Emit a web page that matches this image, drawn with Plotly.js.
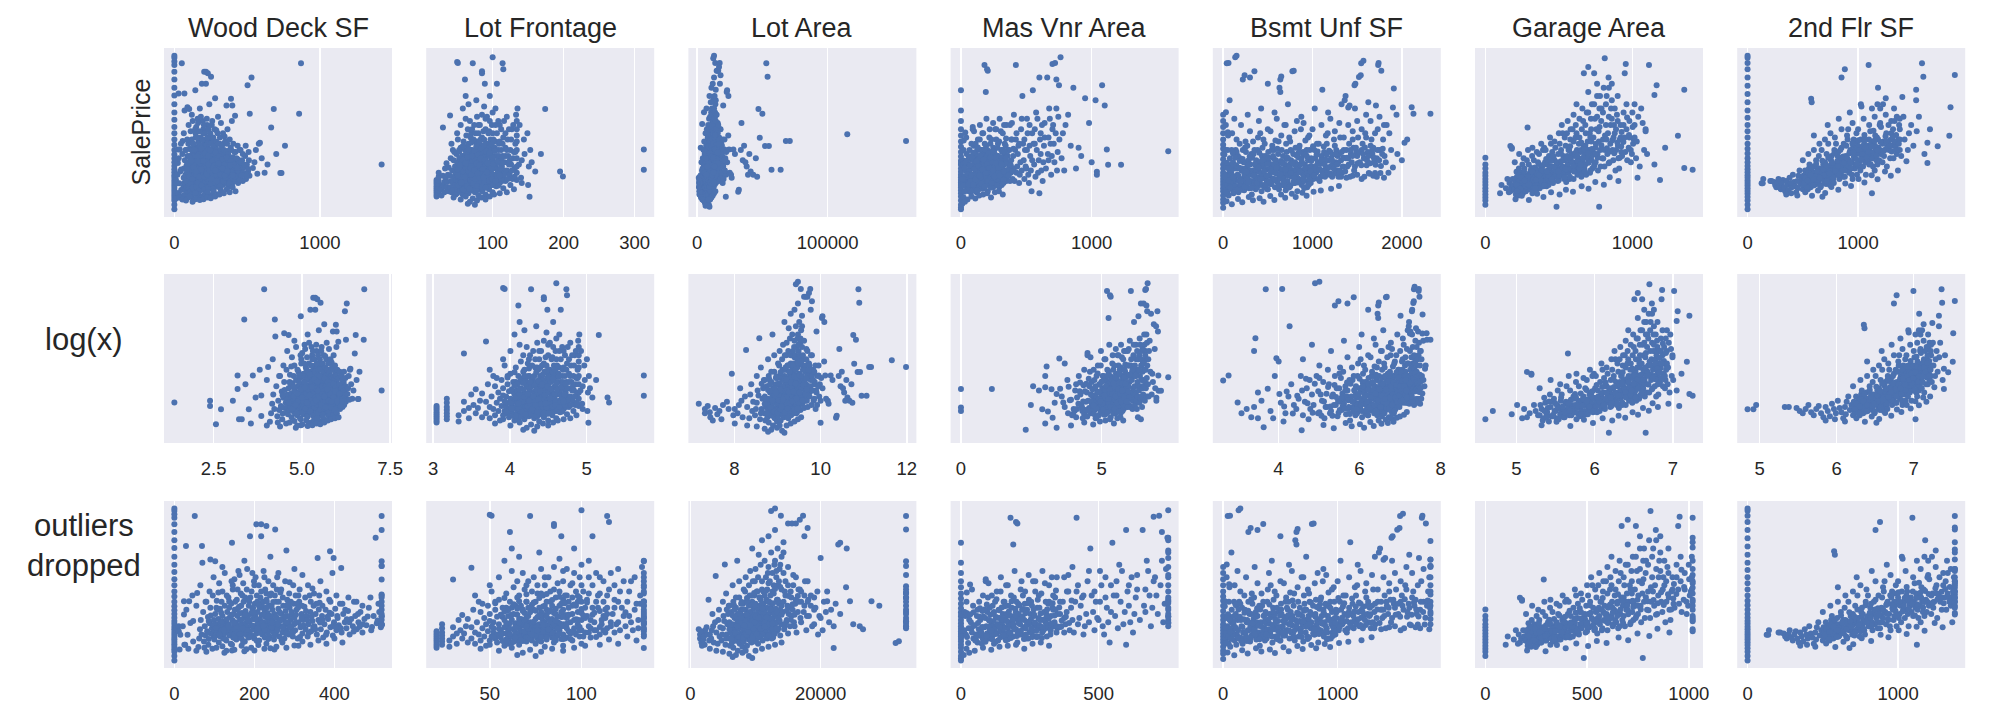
<!DOCTYPE html>
<html>
<head>
<meta charset="utf-8">
<script src="https://cdn.plot.ly/plotly-3.0.1.min.js"></script>
<style>html,body{margin:0;padding:0;background:#fff;}</style>
</head>
<body>
<div id="myPlot" style="width:1996px;height:712px;"></div>
<script>
var features = ['Wood Deck SF', 'Lot Frontage', 'Lot Area', 'Mas Vnr Area', 'Bsmt Unf SF', 'Garage Area', '2nd Flr SF'];
var rowLabels = ['SalePrice', 'log(x)', 'outliers<br>dropped'];

// upper value each feature is clipped to in the "outliers dropped" row
var clipAt = [518, 134, 33100, 753, 1810, 1019, 1377];

var ticksRaw  = [['0','1000'], ['100','200','300'], ['0','100000'], ['0','1000'], ['0','1000','2000'], ['0','1000'], ['0','1000']];
var ticksLog  = [['2.5','5.0','7.5'], ['3','4','5'], ['8','10','12'], ['0','5'], ['4','6','8'], ['5','6','7'], ['5','6','7']];
var ticksClip = [['0','200','400'], ['50','100'], ['0','20000'], ['0','500'], ['0','1000'], ['0','500','1000'], ['0','1000']];

// [feature value, SalePrice in $1000]
var woodDeck = [
  [0,13],[0,35],[0,55],[0,68],[0,80],[0,92],[0,104],[0,116],[0,128],[0,140],[0,152],[0,165],[0,178],[0,192],[0,206],[0,222],[0,240],[0,258],[0,278],[0,300],[0,325],[0,350],[0,380],[0,410],[0,445],[0,480],[0,520],[0,563],[0,600],[0,640],[0,678],[0,710],[0,727],[0,745],[0,755],
  [4,172],[11,180],[11,155],[13,66],[15,139],[21,180],[24,237],[24,302],[25,90],[27,90],[29,572],[33,139],[37,302],[40,196],[47,205],[47,106],[51,719],[57,343],[69,572],[70,490],[90,506],[102,498],
  [62,120],[64,165],[66,210],[68,140],[72,250],[74,105],[76,180],[78,135],[80,300],[82,155],[84,225],[86,118],[88,195],[90,270],[92,145],[94,170],[96,330],[98,128],[99,210],[85,90],[75,75],
  [100,115],[101,160],[102,240],[104,135],[105,190],[106,305],[108,150],[110,215],[111,100],[112,175],[114,265],[115,130],[116,200],[118,160],[120,350],[120,230],[122,120],[123,185],[125,145],[126,280],[128,170],[129,205],[130,110],[132,250],[133,155],[135,320],[136,190],[138,135],[139,225],[140,170],[141,95],[142,290],[144,150],[145,210],[146,380],[147,125],[148,240],[149,180],[150,140],
  [151,260],[152,165],[153,200],[155,115],[156,310],[157,150],[158,230],[160,185],[161,135],[162,275],[164,210],[165,160],[166,340],[168,120],[169,245],[170,190],[171,145],[173,300],[174,220],[175,170],[176,105],[178,255],[179,195],[180,140],[181,360],[183,230],[184,175],[185,125],[186,280],[188,205],[189,155],[190,320],[191,240],[192,185],[194,135],[195,265],[196,215],[198,165],[199,400],
  [200,120],[201,290],[202,230],[204,180],[205,145],[206,330],[208,250],[209,195],[210,160],[212,110],[213,270],[214,215],[216,175],[217,350],[218,235],[220,140],[221,300],[222,200],[224,160],[225,260],[226,125],[228,225],[229,185],[230,310],[232,150],[233,245],[234,205],[236,170],[237,280],[238,130],[240,230],[241,190],[242,340],[244,155],[245,260],[246,210],[248,175],[249,115],
  [250,240],[252,195],[254,150],[255,300],[256,220],[258,170],[260,265],[262,130],[263,205],[265,345],[266,180],[268,240],[270,150],[272,280],[273,210],[275,120],[276,185],[278,255],[280,160],[282,310],[283,230],[285,195],[286,140],[288,270],[290,210],[292,175],[294,235],[296,130],[298,290],[299,190],
  [300,220],[302,160],[305,260],[308,120],[310,200],[312,300],[315,175],[318,240],[320,145],[322,210],[325,275],[328,165],[330,230],[333,130],[335,190],[338,330],[340,250],[342,155],[345,205],[348,280],
  [350,180],[353,240],[356,140],[358,514],[360,210],[363,295],[366,165],[369,230],[372,125],[375,190],[378,260],[381,150],[384,215],[387,310],[389,547],[390,175],[393,240],[396,135],[398,514],[399,200],
  [402,265],[405,160],[408,220],[411,185],[414,290],[417,465],[418,150],[422,240],[426,200],[430,170],[434,255],[438,140],[442,215],[446,180],[449,300],
  [452,230],[456,165],[460,200],[465,250],[470,150],[475,215],[480,185],[486,270],[492,160],[498,230],[503,612],[506,195],[512,250],[516,175],
  [110,345],[146,360],[170,330],[200,380],[230,340],[256,360],[288,395],[150,410],[225,420],[310,330],[345,365],[260,440],[300,460],[195,440],[144,588],[189,620],[205,678],[217,678],[230,670],[252,653],[217,620],[120,470],[175,500],[240,520],[320,430],[280,550],[365,400],[395,440],[160,450],
  [30,260],[45,330],[55,280],[65,380],[78,300],[88,350],[98,420],[105,270],[112,390],[118,300],[126,440],[131,330],[137,270],[143,400],[152,300],[158,360],[163,430],[167,280],[172,390],[177,320],[182,460],[187,300],[193,350],[197,270],[203,420],[207,300],[211,380],[215,320],[219,280],[223,450],[227,360],[231,300],[235,400],[239,330],[243,280],[247,380],[251,330],[257,420],[261,300],[267,360],[271,320],[277,400],[281,280],[287,340],[291,300],[297,380],[303,330],[307,290],[313,360],[319,280],[327,320],[334,380],[341,300],[349,340],[355,290],[362,330],[370,280],[380,350],[390,300],[405,330],[420,290],[435,320],[455,300],[470,280],[490,320],[510,290],
  [83,148],[91,232],[97,186],[107,262],[113,141],[119,203],[127,118],[134,178],[137,301],[143,236],[151,122],[154,178],[159,268],[163,142],[167,212],[172,103],[177,236],[181,162],[186,308],[189,128],[194,248],[197,182],[203,212],[206,108],[211,282],[214,148],[219,196],[223,238],[226,162],[231,272],[235,118],[239,206],[243,175],[247,298],[251,136],[254,226],[259,190],[263,248],[268,112],[271,173],[276,226],[279,144],[284,288],[288,176],[293,250],[297,152],[303,196],[309,270],[314,128],[318,220],[323,184],[329,255],[336,148],[343,228],[352,165],[361,262],[370,212],[379,138],[388,246],[397,184],[407,230],[416,170],[427,260],[437,200],[448,154],[459,240],[471,190],[483,228],[494,176],[508,208],
  [86,206],[103,172],[117,246],[124,160],[131,214],[149,196],[162,244],[171,170],[184,206],[198,246],[208,170],[222,182],[234,228],[244,198],[257,160],[266,212],[281,200],[291,148],[304,236],[317,180],[332,210],[347,176],[364,198],[383,226],[402,178],[431,214],[463,178],
  [60,78],[95,70],[120,82],[144,62],[168,85],[192,75],[210,88],[255,80],[300,86],[144,90],[230,95],[270,100],[320,105],[360,110],[400,120],[130,60],[180,68],[240,72],
  [35,70],[55,60],[80,55],[105,75],[125,50],[150,65],[175,58],[200,62],[225,70],[250,66],[280,75],[310,85],[340,90],[380,95],[420,100],
  [518,474],[588,335],[580,330],[665,408],[640,229],[683,498],[728,188],[736,188],[857,474],[870,719],[1424,229],[540,212],[530,650],[560,300],[600,260],[620,190],[700,280],[760,320],[550,240],[570,185]
];

var lotFrontage = [
  [21,75],[21,85],[21,95],[21,105],[21,115],[21,125],[21,135],[21,145],[21,155],
  [24,90],[24,105],[24,120],[24,135],[24,150],[24,170],[24,190],
  [28,110],[30,130],[30,175],[32,145],[32,95],[33,210],[34,160],[35,120],[35,235],
  [36,145],[37,180],[38,215],[38,100],[40,120],[40,175],[40,466],[30,408],[41,260],[42,95],[42,150],[43,200],[44,140],[44,300],[45,250],[45,110],[46,170],[47,130],[47,220],[48,190],[48,85],[49,155],[49,280],
  [50,725],[51,720],[50,90],[50,110],[50,240],[51,130],[51,350],[52,150],[52,170],[52,200],[53,120],[53,260],[54,140],[54,100],[55,190],[55,310],[56,160],[56,125],[57,225],[57,145],[58,210],[58,85],[58,175],[59,145],[59,115],[59,270],[60,115],[60,175],[60,135],[60,230],[60,155],[60,95],[61,640],[62,560],[62,270],
  [61,195],[62,100],[62,130],[63,125],[63,165],[63,240],[64,150],[64,195],[64,110],[65,110],[65,140],[65,180],[65,320],[66,170],[66,90],[66,215],[67,130],[67,215],[67,155],[68,155],[68,120],[68,255],[68,185],[69,185],[69,245],[69,140],[70,105],[70,140],[70,165],[70,300],[70,200],[70,125],[70,380],
  [71,125],[71,230],[72,150],[72,719],[72,200],[72,175],[73,110],[73,175],[73,285],[74,135],[74,260],[74,160],[75,95],[75,160],[75,185],[75,215],[75,140],[76,120],[76,225],[76,340],[77,145],[77,190],[78,170],[78,105],[78,340],[78,250],[79,130],[79,205],[80,155],[80,200],[80,280],[80,80],[80,175],[80,235],[80,130],[80,420],
  [81,115],[81,260],[82,140],[82,185],[82,215],[83,165],[83,300],[84,125],[84,215],[84,175],[85,680],[85,670],[85,150],[85,100],[85,245],[85,360],[86,240],[86,175],[86,130],[87,135],[87,200],[88,195],[88,160],[88,280],[89,620],[89,118],[89,225],[90,140],[90,260],[90,310],[90,85],[90,190],[90,450],
  [91,180],[91,235],[92,125],[92,220],[92,330],[93,155],[93,270],[94,200],[94,145],[95,110],[95,240],[95,390],[96,170],[96,210],[97,140],[97,280],[98,190],[98,250],[99,130],[99,320],[100,747],[100,160],[100,210],[100,380],[100,245],[100,95],[100,300],[100,480],
  [102,150],[102,270],[103,230],[104,180],[104,340],[105,125],[105,210],[106,620],[106,270],[107,200],[107,160],[108,160],[108,300],[109,330],[110,140],[110,255],[110,420],[111,190],[112,300],[112,230],[113,220],[113,150],[114,719],[114,170],[114,270],[115,690],[115,115],[115,360],
  [116,200],[117,240],[118,150],[118,310],[119,190],[120,200],[120,460],[121,350],[122,270],[123,230],[124,180],[125,130],[125,300],[126,230],[127,400],[128,160],[129,260],[130,290],[131,210],[132,330],[133,470],[134,260],[134,400],[134,190],[134,340],[134,220],[134,300],[134,155],[130,110],
  [42,330],[46,290],[50,380],[53,300],[55,420],[57,270],[59,340],[61,300],[62,450],[63,370],[64,280],[65,400],[66,330],[67,280],[68,440],[69,360],[70,300],[71,400],[72,270],[73,350],[74,420],[75,300],[76,380],[77,270],[78,460],[79,330],[80,380],[81,300],[82,420],[83,350],[84,280],[85,470],[86,320],[87,390],[88,350],[89,290],[90,400],[91,330],[92,460],[93,300],[94,380],[95,320],[96,440],[97,350],[98,300],[99,420],[101,350],[103,310],[104,420],[106,380],[108,440],[110,340],[112,400],[114,330],[116,440],[118,380],[120,300],[123,400],[126,350],[129,420],[132,290],[134,370],[134,440],[58,500],[66,520],[77,540],[88,510],[96,560],[104,500],
  [50,205],[52,128],[53,292],[55,168],[56,236],[57,108],[58,318],[59,196],[60,258],[61,142],[62,212],[63,288],[63,104],[64,176],[65,236],[66,128],[66,302],[67,192],[68,262],[68,108],[69,156],[70,222],[70,336],[71,168],[72,248],[72,118],[73,196],[74,296],[75,132],[75,256],[76,178],[77,318],[77,110],[78,222],[79,152],[79,276],[80,190],[81,338],[81,126],[82,250],[83,204],[84,148],[84,308],[85,188],[86,266],[86,112],[87,228],[88,146],[88,324],[89,180],[90,226],[91,120],[91,292],[92,170],[93,236],[94,118],[95,280],[96,152],[97,214],[98,328],[99,176],[100,264],[101,130],[102,220],[103,296],[105,170],[106,236],[108,128],[109,270],[111,210],[112,160],[114,240],[116,180],[118,270],[121,160],[124,248],[127,200],[131,170],
  [51,178],[54,226],[56,142],[58,252],[59,108],[61,168],[62,236],[64,126],[65,266],[66,198],[67,112],[69,212],[70,180],[71,270],[73,140],[74,202],[76,160],[77,234],[78,126],[79,186],[81,226],[82,164],[83,258],[85,122],[86,208],[87,168],[89,250],[90,118],[92,192],[93,236],[95,152],[96,286],[98,212],[99,160],[101,232],[104,150],[107,246],[110,176],[113,262],
  [28,80],[45,70],[55,60],[62,75],[68,50],[72,65],[78,55],[84,70],[90,60],[96,75],[102,85],[110,90],[120,95],[65,40],[75,35],
  [135,500],[138,420],[140,165],[141,250],[144,350],[149,380],[151,220],[152,74],[153,300],[160,196],[168,280],[174,498],[195,196],[199,172],[313,302],[313,204],[141,140],[150,130],[137,230],[145,280],[155,240]
];

var lotArea = [
  [1300,165],[1500,120],[1500,140],[1680,125],[1700,100],[1900,145],[2000,115],[2100,130],[2280,160],[2500,175],[2800,310],[2200,90],[2600,140],[2900,110],[1600,155],[1800,85],
  [3000,140],[3200,120],[3500,180],[3600,100],[3900,425],[4000,150],[4300,210],[4500,130],[4800,110],[5300,482],[5000,170],[5400,90],[5600,140],[5800,240],[3300,160],[3800,200],[4200,95],[4600,175],[4900,140],[5100,230],[5500,120],[5700,190],[5900,280],[4400,260],[3400,240],
  [6000,120],[6000,200],[6100,85],[6200,150],[6300,250],[6400,100],[6400,175],[6500,190],[6500,135],[6600,75],[6600,300],[6700,160],[6800,130],[6800,220],[6900,110],[7000,160],[7000,110],[7000,270],[7100,190],[7200,140],[7200,210],[7300,60],[7300,240],[7400,125],[7400,170],[7500,175],[7500,320],[7500,100],[7600,95],[7600,205],[7700,145],[7700,255],[7800,260],[7800,130],[7900,115],[7900,185],[8000,135],[8000,190],[8000,230],[8000,80],
  [8100,155],[8100,290],[8200,105],[8200,210],[8300,230],[8300,140],[8400,170],[8400,350],[8500,125],[8500,145],[8500,260],[8600,300],[8600,190],[8700,85],[8700,220],[8800,160],[8800,245],[8900,200],[8900,130],[9000,115],[9000,135],[9000,280],[9000,175],[9100,180],[9100,330],[9200,150],[9200,210],[9300,250],[9300,120],[9400,100],[9400,195],[9500,170],[9500,125],[9500,300],[9500,230],[9600,210],[9600,150],[9700,140],[9700,265],[9800,330],[9800,180],[9900,160],[9900,240],[9900,400],
  [10000,115],[10000,190],[10000,290],[10000,150],[10100,135],[10100,220],[10200,240],[10200,170],[10300,155],[10300,350],[10400,95],[10400,205],[10500,175],[10500,260],[10600,280],[10600,140],[10700,125],[10700,230],[10800,205],[10800,310],[10900,145],[10900,185],[11000,165],[11000,360],[11000,250],[11100,110],[11100,215],[11200,230],[11200,290],[11300,185],[11300,140],[11400,140],[11400,330],[11500,265],[11500,200],[11600,155],[11600,240],[11700,310],[11700,175],[11800,120],[11800,270],[11900,200],[11900,440],[12000,175],[12000,390],[12000,230],
  [12100,140],[12100,300],[12200,245],[12300,190],[12400,743],[12400,160],[12400,270],[12500,290],[12500,210],[12600,215],[12600,350],[12700,125],[12700,250],[12800,340],[12800,180],[12900,185],[12900,480],[13000,755],[13000,150],[13000,230],[13100,265],[13200,420],[13200,200],[13300,200],[13300,310],[13400,310],[13400,160],[13500,170],[13500,380],[13600,235],[13600,290],[13700,460],[13800,135],[13800,260],[13900,720],[14000,280],[14000,190],[14000,520],
  [14200,250],[14300,590],[14300,540],[14400,165],[14500,350],[14600,330],[14700,200],[14800,210],[14900,280],[15000,682],[15000,380],[15000,145],[15100,240],[15200,270],[15300,180],[15500,230],[15500,320],[15600,682],[15700,260],[15800,430],[15900,200],[16000,180],[16100,290],[16200,682],[16200,310],[16300,150],[16500,250],[16600,360],[16800,700],[16800,360],[16900,220],[17000,200],[17000,300],[17300,720],[17400,250],[17500,620],[17500,280],[17600,400],[17800,160],[17900,230],[18000,660],[18000,400],[18100,310],[18200,230],[18500,330],[18700,180],[19000,190],[19000,260],[19200,270],[19500,350],[19600,140],[19800,230],
  [5000,300],[5500,340],[6000,280],[6500,380],[7000,320],[7500,400],[7800,290],[8200,360],[8500,420],[8800,300],[9000,380],[9200,450],[9400,330],[9600,400],[9800,290],[10000,460],[10200,350],[10400,420],[10600,320],[10800,480],[11000,400],[11200,350],[11400,500],[11600,420],[11800,360],[12000,470],[12200,400],[12400,540],[12600,440],[12800,380],[13000,500],[13200,450],[13400,560],[13600,400],[13800,480],[14000,360],[14300,440],[14600,400],[15000,470],[15400,350],[15800,380],[16200,420],[16600,300],[17000,350],[17500,330],[18000,300],[18500,280],[19000,320],[7200,500],[9500,560],[11000,600],[12000,620],[13000,650],[10500,530],
  [5200,205],[5600,262],[6000,165],[6300,118],[6500,232],[6700,282],[6900,148],[7100,228],[7300,172],[7500,128],[7700,198],[7900,298],[8100,122],[8200,262],[8400,208],[8600,138],[8700,318],[8900,176],[9100,248],[9200,112],[9400,282],[9500,202],[9700,168],[9800,342],[10000,228],[10100,104],[10300,272],[10400,182],[10600,216],[10700,320],[10900,168],[11000,290],[11100,140],[11300,248],[11400,198],[11600,352],[11700,128],[11800,224],[12000,298],[12100,190],[12300,330],[12400,218],[12600,168],[12700,292],[12900,240],[13000,362],[13200,170],[13300,248],[13500,302],[13700,208],[13800,372],[14000,236],[14300,300],[14500,182],[14800,256],[15100,328],[15400,212],[15700,288],[16000,236],[16500,328],[6200,190],[7600,240],[8800,230],[10500,130],[12500,120],[9900,198],
  [8300,182],[8600,236],[8900,152],[9200,186],[9600,122],[9900,282],[10200,142],[10500,222],[10800,168],[11100,268],[11400,178],[11700,224],[12000,136],[12300,262],[12600,192],[12900,142],[7200,180],[6800,260],[7800,220],[13500,220],
  [3000,70],[4000,60],[5000,55],[6000,45],[7000,40],[8000,50],[9000,35],[10000,60],[11000,70],[12000,80],[13000,90],[14000,100],[6500,30],[9500,25],[8500,60],
  [20000,514],[20000,220],[20500,300],[21000,350],[21000,302],[21600,260],[22000,74],[22000,180],[22700,580],[23000,588],[23000,240],[23900,370],[24000,560],[24500,302],[25000,190],[26000,180],[26500,165],[27800,302],[29000,280],[31500,98],[32000,107],[20300,160],[21300,200],[22300,290],[20800,250],
  [36000,320],[38000,220],[40000,280],[41000,196],[43000,180],[46000,170],[48000,359],[47000,498],[50000,474],[52000,319],[53000,719],[54000,653],[55000,319],[57000,204],[64000,204],[68000,343],[71000,343],[115000,376],[160000,343],[35000,250],[34000,430],[39000,180],[45000,260],[33500,300],[37000,240]
];

var masVnrArea = [
  [0,13],[0,22],[0,35],[0,55],[0,75],[0,90],[0,105],[0,118],[0,130],[0,142],[0,155],[0,168],[0,180],[0,195],[0,210],[0,228],[0,248],[0,268],[0,290],[0,315],[0,340],[0,370],[0,400],[0,440],[0,490],[0,588],
  [1,237],[1,147],[1,131],
  [3,237],[13,250],[16,230],[18,139],[20,245],[21,345],[25,235],[33,384],[40,150],[45,120],[50,185],[55,140],[60,100],[65,165],[70,210],[75,130],[80,115],[85,175],[90,410],[90,400],[95,145],[28,170],[36,200],[44,280],[52,110],[58,230],[66,300],[72,160],[78,255],[84,135],[88,220],[92,180],[98,320],[62,140],[76,95],[96,250],
  [100,120],[102,210],[104,270],[105,160],[108,140],[110,200],[112,330],[115,135],[117,180],[120,95],[120,250],[122,165],[124,300],[125,175],[127,225],[130,145],[132,190],[135,110],[137,260],[140,220],[142,155],[144,350],[145,160],[147,200],[150,185],[150,130],[152,240],[155,300],[157,175],[160,145],[162,215],[164,380],[165,240],[167,130],[170,170],[170,115],[172,280],[175,200],[177,150],[180,150],[180,710],[182,230],[185,270],[187,180],[190,580],[190,130],[192,320],[195,215],[197,165],[199,250],
  [200,165],[200,690],[202,300],[205,682],[205,100],[207,220],[210,240],[212,140],[215,190],[217,360],[220,140],[222,260],[225,330],[227,175],[230,210],[232,290],[235,170],[237,120],[240,260],[242,200],[245,120],[247,310],[250,195],[252,240],[255,300],[257,150],[260,155],[262,400],[265,230],[267,185],[270,350],[272,130],[275,180],[277,270],[280,130],[282,220],[285,270],[287,170],[290,210],[292,340],[295,150],[300,160],[302,250],[305,390],[307,200],[310,240],[312,130],[315,190],[317,290],[320,300],[322,170],[325,140],[327,230],[330,420],[332,270],[335,260],[337,180],[340,200],[342,320],[345,355],[347,150],[350,170],[350,240],
  [360,240],[365,180],[370,300],[375,220],[380,190],[385,350],[390,430],[395,160],[400,270],[405,210],[410,150],[415,300],[420,710],[420,350],[425,190],[430,220],[435,280],[440,320],[445,140],[450,180],[455,240],[460,400],[465,200],[470,560],[475,330],[480,250],[485,160],[490,300],[495,220],[500,210],[505,450],[510,380],[515,180],[520,140],[525,320],[530,270],[535,200],[540,100],[545,250],[550,588],[555,330],[560,230],[565,400],[570,170],[575,480],[580,300],[590,190],[595,250],[600,90],[600,650],[605,350],[610,280],[615,200],[620,420],[625,150],[630,240],[635,320],[640,360],[650,210],[660,650],[665,280],[670,250],[675,500],[680,450],[685,330],[690,180],[695,270],[700,715],[705,420],[710,330],[715,240],[720,720],[725,380],[730,640],[735,200],[740,290],[745,460],[750,612],[753,350],[762,747],
  [20,300],[40,360],[60,260],[80,330],[100,390],[115,280],[130,350],[145,420],[158,300],[170,380],[182,330],[195,450],[208,290],[220,400],[233,350],[246,430],[258,280],[270,400],[283,330],[296,450],[308,300],[320,380],[335,330],[348,420],[360,300],[375,420],[390,350],[405,470],[425,380],[445,330],[465,450],[485,350],[505,300],[525,420],[545,380],[565,330],[585,450],[610,380],[640,430],[670,360],[700,400],[730,500],
  [22,128],[30,212],[38,172],[46,248],[54,116],[62,196],[69,268],[74,148],[82,226],[89,104],[94,286],[101,178],[107,236],[113,116],[119,206],[124,142],[129,312],[134,188],[139,258],[143,126],[149,216],[154,168],[159,278],[163,112],[168,232],[173,192],[178,146],[184,302],[188,212],[193,168],[198,266],[203,132],[208,196],[213,282],[218,158],[224,226],[229,118],[234,244],[239,186],[244,292],[249,152],[254,214],[259,128],[264,262],[269,198],[274,158],[279,310],[284,186],[289,242],[294,122],[299,212],[306,170],[313,262],[319,218],[326,160],[333,292],[340,232],[348,180],[357,272],[366,208],[375,150],[384,250],[393,196],[402,306],
  [12,160],[26,98],[34,238],[48,182],[57,132],[68,226],[77,176],[86,262],[93,132],[103,208],[111,158],[118,244],[126,104],[133,222],[141,176],[148,272],[156,136],[165,206],[174,252],[181,122],[190,188],[199,232],[206,150],[216,212],[226,264],[236,140],[245,202],[256,170],[266,236],[276,128],[286,214],[296,176],[311,230],[329,194],[344,262],[362,176],[381,226],
  [20,70],[50,60],[80,75],[110,65],[140,80],[170,85],[200,90],[230,70],[260,95],[290,100],[320,85],[10,40],[30,50],
  [790,200],[860,600],[880,210],[900,310],[950,550],[1030,540],[1040,195],[1040,180],[1080,612],[1100,514],[1116,302],[1126,228],[1225,228],[1586,294],[800,420],[820,470],[770,260],[780,380],[840,320],[920,270],[980,430],[1000,240]
];

var bsmtUnfSF = [
  [0,20],[0,45],[0,60],[0,80],[0,100],[0,115],[0,130],[0,145],[0,160],[0,175],[0,190],[0,210],[0,230],[0,255],[0,280],[0,305],[0,325],[0,350],[0,380],[0,410],[0,440],[0,470],
  [14,278],[16,302],[22,120],[25,140],[28,100],[30,150],[31,482],[30,420],[33,220],[36,180],[40,719],[45,130],[52,385],[55,370],[60,720],[67,225],[70,200],[72,540],[80,160],[90,190],[100,110],[110,240],[120,140],[135,747],[140,300],[48,95],[58,170],[65,120],[75,260],[85,140],[95,300],[105,175],[115,90],[125,210],[130,160],[145,120],[150,350],[62,80],[98,230],[118,280],
  [150,755],[150,125],[155,210],[160,180],[165,270],[170,95],[175,150],[180,150],[185,330],[190,260],[195,120],[200,130],[205,200],[210,210],[215,160],[220,640],[220,300],[225,160],[230,240],[235,105],[238,180],[240,660],[245,240],[248,135],[250,175],[255,290],[260,135],[265,215],[270,320],[275,165],[280,190],[285,250],[290,115],[295,200],[300,650],[300,230],[305,140],[310,150],[315,280],[320,85],[325,190],[330,200],[335,340],[340,280],[345,150],[350,680],[350,140],[355,230],[360,170],[365,110],[370,250],[375,195],[380,120],[385,300],[390,360],[395,165],[400,195],[405,240],[410,145],[415,380],[420,225],[425,130],[430,100],[435,270],[440,310],[445,180],[450,165],[455,215],[460,130],[465,330],[470,270],[475,160],[480,205],[485,250],[490,150],[495,110],
  [500,620],[500,110],[505,290],[510,240],[515,175],[520,180],[525,135],[530,390],[535,225],[540,135],[545,300],[550,215],[555,160],[560,160],[565,260],[570,300],[575,190],[580,120],[585,345],[590,250],[595,150],[600,185],[605,230],[610,145],[615,280],[620,340],[625,110],[630,600],[630,210],[640,640],[640,580],[645,170],[650,200],[650,655],[655,300],[660,130],[665,240],[670,270],[675,160],[680,170],[685,420],[690,230],[695,190],[700,105],[705,330],[710,290],[715,210],[720,150],[725,260],[730,195],[735,130],[740,360],[745,230],[750,125],[755,300],[760,250],[765,170],[770,200],[775,680],[780,175],[785,280],[790,682],[795,140],[800,140],[805,240],[810,310],[815,185],[820,205],[825,440],[830,100],[835,160],[840,265],[845,215],[850,160],[855,320],[860,230],[865,145],[870,400],[875,260],[880,130],[885,200],[890,185],[895,290],[900,280],[905,170],[910,150],[915,230],[920,345],[925,120],[930,210],[935,300],[940,120],[945,190],[950,250],[955,150],[960,175],[965,370],[970,300],[975,220],[980,140],[985,260],[990,220],[995,165],[1000,190],
  [1010,160],[1020,300],[1030,260],[1040,190],[1050,200],[1060,240],[1070,330],[1080,150],[1090,170],[1100,270],[1110,590],[1110,240],[1120,200],[1130,290],[1140,170],[1150,210],[1160,330],[1170,380],[1180,250],[1190,180],[1200,290],[1210,260],[1220,170],[1230,230],[1240,350],[1250,320],[1260,240],[1270,200],[1280,270],[1290,170],[1300,280],[1310,360],[1320,250],[1330,190],[1340,220],[1350,300],[1360,540],[1370,560],[1375,260],[1380,300],[1390,220],[1400,505],[1400,260],[1410,330],[1415,514],[1420,170],[1430,280],[1440,240],[1450,350],[1460,310],[1470,612],[1475,220],[1480,620],[1490,290],[1500,270],[1510,360],[1520,652],[1530,240],[1540,660],[1545,719],[1550,300],[1560,330],[1570,730],[1575,260],[1580,170],[1590,380],[1600,470],[1610,250],[1620,290],[1630,188],[1640,185],[1650,320],[1660,350],[1670,280],[1680,310],[1690,240],[1700,188],[1710,514],[1720,260],[1730,400],[1735,710],[1740,720],[1750,300],[1760,188],[1770,682],[1780,280],[1790,350],[1800,165],[1320,170],[1380,165],[1450,175],[1550,160],[1680,175],[1720,170],[1500,180],
  [50,300],[100,380],[150,290],[200,420],[250,340],[300,390],[350,300],[400,440],[450,350],[500,400],[550,320],[600,450],[650,370],[700,420],[750,340],[800,390],[850,310],[900,430],[950,360],[1000,400],[1050,330],[1100,420],[1150,370],[1200,450],[1250,390],[1300,430],[1350,360],[1400,420],[1450,390],[1500,440],[1550,400],[1600,360],[1650,440],[1700,380],[1750,460],[1800,420],[125,450],[275,470],[425,500],[575,480],[725,520],[875,460],[1025,500],[1175,480],[1325,520],[1475,500],[1625,530],
  [20,172],[42,238],[63,152],[87,204],[108,286],[127,122],[146,226],[168,176],[186,246],[207,108],[226,198],[246,312],[266,152],[284,228],[306,182],[324,262],[346,128],[366,206],[386,162],[404,286],[426,186],[446,236],[466,118],[486,176],[506,262],[526,206],[546,152],[566,232],[586,192],[606,306],[626,162],[646,246],[666,206],[686,128],[706,256],[726,178],[746,216],[766,296],[786,144],[806,226],[826,168],[846,288],[866,192],[886,236],[906,116],[926,276],[946,212],[966,156],[986,246],[1006,318],[1026,206],[1046,276],[1066,160],[1086,232],[1106,196],[1126,316],[1146,252],[1166,190],[1186,296],[1206,222],[1226,276],[1246,186],[1266,300],[1286,238],[1306,200],[1326,290],[1346,262],[1366,196],[1386,262],[1406,230],[1426,300],[1446,270],[1466,200],[1486,310],[1506,236],[1526,290],[1546,226],[1566,280],[1586,312],[1606,226],[1626,270],[1646,236],[1666,296],[1686,262],[1706,228],[1726,300],[1746,250],[1766,222],[1786,306],[1806,270],
  [33,96],[56,212],[78,118],[112,168],[134,262],[158,108],[179,214],[197,152],[218,256],[241,122],[259,194],[279,142],[297,268],[318,116],[338,176],[357,232],[378,140],[397,214],[418,160],[437,250],[458,198],[478,132],[497,232],[517,148],[538,198],[557,270],[578,158],[597,214],[618,126],[638,182],[657,236],[678,150],[698,204],[717,262],[738,118],[757,188],[778,236],[797,164],[818,274],[837,142],[858,196],[877,250],[898,160],[917,212],[938,268],[957,132],[978,196],[997,256],[1018,176],[1038,222],[1057,292],[1078,206],[1098,250],[1118,180],[1137,230],[1158,276],[1178,214],[1198,186],[1218,250],[1238,210],[1258,280],[1278,230],[1298,196],
  [38,52],[97,38],[166,63],[214,47],[287,72],[333,57],[408,66],[452,49],[527,77],[573,58],[648,84],[694,69],[769,88],[812,73],[887,93],[934,78],[1012,98],[1093,104],[1208,112],[1296,126],
  [1900,505],[1910,596],[1940,470],[2030,335],[2110,506],[2130,474],[2320,474],[1900,215],[1850,190],[1880,300],[2000,250],[1830,420],[1860,380],[1950,280],[1820,240],[2060,350]
];

var garageArea = [
  [0,35],[0,55],[0,70],[0,85],[0,100],[0,115],[0,130],[0,145],[0,160],[0,175],[0,190],[0,210],[0,230],[0,262],
  [100,90],[110,130],[140,115],[150,160],[160,95],[164,140],[170,100],[170,319],[176,120],[180,310],[180,305],[186,160],[190,130],[196,110],
  [200,110],[202,160],[205,140],[208,85],[210,95],[212,195],[215,170],[218,120],[220,125],[222,145],[225,80],[228,210],[230,150],[232,105],[235,105],[238,175],[240,190],[242,130],[245,130],[248,95],[250,160],[252,230],[255,90],[258,140],[260,115],[262,180],[265,210],[268,125],[270,140],[272,100],[275,100],[278,165],[280,175],[282,250],[285,125],[288,145],[290,150],[292,110],[295,230],[298,185],
  [300,110],[302,160],[305,135],[308,200],[310,190],[312,125],[315,160],[318,270],[320,90],[322,145],[325,120],[328,180],[330,250],[332,105],[335,145],[338,215],[340,175],[342,130],[345,105],[348,190],[350,200],[352,160],[355,130],[358,240],[360,160],[362,115],[365,280],[368,185],[370,115],[372,140],[375,185],[378,210],[380,140],[382,170],[385,220],[388,130],[390,165],[392,300],[395,125],[398,195],[400,310],[400,190],[403,150],[406,240],[410,150],[413,175],[416,125],[420,230],[423,200],[426,160],[430,130],[433,270],[436,185],[440,200],[443,145],[446,330],[450,170],[287,408],
  [452,220],[455,290],[458,150],[460,140],[463,250],[466,190],[470,250],[473,170],[476,310],[480,185],[484,25],[486,230],[490,215],[493,150],[496,280],[500,155],[502,200],[505,330],[508,240],[510,240],[512,175],[515,300],[520,180],[523,220],[526,380],[530,270],[533,190],[536,160],[540,200],[543,250],[546,320],[550,145],[553,220],[555,380],[558,270],[560,230],[563,190],[566,300],[570,300],[573,160],[575,170],[578,350],[580,250],[583,210],[586,280],[590,205],[593,400],[596,240],[600,340],[600,160],[603,270],[606,200],[610,280],[613,360],[615,420],[618,230],[620,220],[623,300],[626,180],[630,190],[633,260],[636,330],[640,360],[643,200],[645,250],[648,290],[650,300],[653,170],[656,400],[660,180],[663,240],[665,440],[668,320],[670,670],[673,210],[676,280],[680,230],[680,320],[683,380],[686,180],[690,480],[693,260],[696,340],[700,260],[700,700],
  [705,300],[710,380],[712,190],[715,200],[718,450],[720,340],[722,250],[725,520],[728,210],[730,290],[735,360],[740,670],[742,230],[745,450],[748,310],[750,240],[755,400],[760,560],[763,280],[766,200],[770,390],[774,25],[776,500],[780,300],[784,220],[788,440],[790,500],[795,260],[800,350],[805,600],[810,220],[812,743],[815,300],[820,420],[825,560],[830,280],[834,380],[838,650],[840,460],[845,240],[850,330],[855,500],[860,540],[865,300],[870,250],[875,420],[880,380],[885,200],[890,300],[895,470],[900,440],[905,260],[910,210],[915,350],[920,360],[925,290],[930,270],[940,420],[948,670],[955,715],[960,400],[965,250],[975,310],[980,360],[990,240],[997,280],[1005,330],[1010,350],[1015,420],
  [200,240],[230,280],[260,260],[290,300],[320,310],[350,290],[380,330],[410,300],[440,360],[470,340],[500,380],[520,420],[540,360],[560,440],[580,400],[600,470],[620,380],[640,450],[660,500],[680,420],[700,480],[720,400],[740,520],[760,460],[780,560],[800,480],[820,520],[840,600],[860,450],[880,500],[900,560],[920,420],[940,480],[960,520],[980,440],[1000,480],[1015,520],[620,520],[700,580],[760,620],[860,620],
  [212,132],[226,176],[238,112],[251,150],[263,196],[276,124],[289,168],[301,140],[314,212],[327,156],[339,116],[352,186],[364,232],[377,152],[389,200],[402,130],[414,256],[427,178],[439,216],[452,158],[464,268],[477,200],[489,240],[502,176],[514,282],[527,214],[539,168],[552,258],[564,206],[577,318],[589,238],[602,196],[614,286],[627,248],[639,210],[652,336],[664,262],[677,196],[689,300],[702,238],[714,362],[727,274],[739,220],[752,330],[764,262],[777,410],[789,322],[802,258],[814,370],[827,308],[839,236],[852,420],[864,346],[877,284],[889,400],[902,320],[914,262],[927,386],[939,338],[952,290],[964,456],[977,372],[989,300],[1002,410],[1015,360],
  [218,102],[244,168],[268,152],[294,132],[318,196],[344,156],[366,178],[392,226],[418,196],[444,246],[468,218],[496,196],[518,246],[546,206],[572,262],[598,222],[624,272],[648,230],[674,302],[698,284],[724,304],[748,280],[772,340],[798,302],[824,350],[848,292],[872,360],[898,336],[924,316],[948,360],
  [205,62],[248,78],[296,58],[352,88],[395,72],[447,96],[505,84],[548,108],[596,98],[655,125],[702,112],[748,145],[806,132],[846,168],[905,150],
  [1035,165],[1090,400],[1090,390],[1113,710],[1150,230],[1150,565],[1165,612],[1188,155],[1223,310],[1310,368],[1353,590],[1353,212],[1410,204],[1040,460],[1060,500],[1080,300],[1025,260],[1030,340],[1050,220],[1070,430],[1100,280]
];

var secondFlrSF = [
  [0,13],[0,35],[0,55],[0,72],[0,88],[0,102],[0,115],[0,128],[0,140],[0,152],[0,165],[0,178],[0,192],[0,206],[0,222],[0,240],[0,260],[0,282],[0,305],[0,330],[0,360],[0,390],[0,420],[0,455],[0,490],[0,530],[0,570],[0,610],[0,650],[0,690],[0,720],[0,745],[0,755],
  [127,139],[137,139],[142,160],[206,150],[217,150],[240,145],[250,130],[260,120],[270,140],[300,110],[320,155],[340,100],[360,130],[380,165],[400,120],[420,145],[440,95],[460,175],[480,135],[500,110],[290,125],[310,140],[330,120],[350,150],[370,105],[390,140],[410,180],[430,125],[450,150],[470,200],[490,160],[280,160],[395,90],[455,115],
  [505,175],[510,150],[515,125],[520,200],[525,145],[530,125],[535,180],[540,170],[545,110],[550,140],[555,210],[560,230],[565,160],[570,120],[575,547],[575,190],[580,530],[585,145],[590,160],[595,220],[600,190],[605,130],[610,135],[615,175],[620,250],[625,150],[630,175],[635,210],[640,145],[645,270],[650,210],[655,130],[660,120],[665,185],[670,300],[675,160],[677,74],[680,185],[685,230],[690,160],[695,140],[700,240],[705,190],[710,135],[715,280],[720,200],[725,165],[730,330],[735,220],[740,175],[745,130],[750,155],[755,250],[760,270],[765,190],[770,210],[775,160],[780,140],[785,300],[790,360],[795,220],[800,230],
  [805,180],[810,180],[815,270],[820,290],[825,200],[830,160],[835,240],[840,250],[845,190],[850,650],[850,310],[855,220],[860,200],[865,170],[870,330],[875,260],[880,690],[880,170],[885,230],[890,270],[895,200],[900,220],[905,350],[910,400],[915,250],[920,190],[925,290],[930,300],[935,210],[940,240],[945,180],[950,160],[955,320],[960,350],[965,260],[970,210],[975,230],[980,280],[985,380],[990,180],[995,300],[1000,320],[1005,220],[1010,240],[1015,280],[1020,200],[1025,350],[1030,510],[1035,260],[1040,300],[1045,220],[1050,260],[1055,330],[1060,350],[1065,240],[1070,180],[1075,290],[1080,280],[1085,320],[1090,250],[1095,710],[1100,230],
  [1105,300],[1110,390],[1115,270],[1120,340],[1125,90],[1130,260],[1135,220],[1140,320],[1145,280],[1150,200],[1155,370],[1160,300],[1165,250],[1170,360],[1175,230],[1180,600],[1185,310],[1190,250],[1195,420],[1200,500],[1205,280],[1210,290],[1220,240],[1230,340],[1240,300],[1250,550],[1255,380],[1260,220],[1270,330],[1280,300],[1290,260],[1300,380],[1310,320],[1320,260],[1330,440],[1340,320],[1350,280],[1360,200],[1365,350],[1377,350],[1377,300],[1377,400],
  [500,250],[550,280],[600,300],[650,330],[700,350],[750,380],[800,330],[850,400],[900,370],[950,430],[1000,400],[1050,450],[1100,420],[1150,460],[1200,430],[1250,470],[1300,440],[1350,460],[1377,450],[725,420],[825,450],[925,480],[1025,520],[1125,500],[1225,520],[1325,500],[600,370],[975,340],[1175,520],
  [508,132],[522,166],[537,118],[551,188],[566,142],[579,212],[593,128],[607,172],[621,232],[634,156],[648,196],[662,124],[676,248],[689,178],[703,212],[716,150],[730,262],[744,196],[757,228],[771,168],[784,282],[798,208],[812,246],[826,182],[839,300],[853,232],[866,268],[880,200],[894,320],[907,246],[921,284],[934,214],[948,332],[962,268],[975,300],[989,232],[1003,346],[1016,284],[1030,252],[1044,318],[1057,372],[1071,266],[1084,306],[1098,350],[1112,232],[1126,288],[1139,392],[1153,320],[1166,272],[1180,352],[1194,300],[1207,410],[1221,330],[1234,270],[1248,366],[1262,312],[1275,420],[1289,348],[1303,292],[1316,400],[1330,340],[1344,372],[1357,300],[1371,420],
  [514,140],[544,152],[571,178],[599,160],[628,198],[656,166],[683,206],[711,226],[738,186],[766,238],[793,198],[818,222],[847,262],[873,238],[901,260],[928,240],[956,288],[983,256],[1011,300],[1038,280],[1066,310],[1093,290],[1121,318],[1148,344],[1176,298],[1203,338],[1231,296],[1258,340],[1286,320],[1313,362],[1341,300],[1368,330],
  [522,96],[583,78],[637,104],[702,92],[758,121],[821,108],[884,138],[936,126],[1004,160],[1057,142],[1123,178],[1176,158],[1243,196],[1296,175],[450,80],[350,85],
  [1400,555],[1437,245],[1525,590],[1525,540],[1530,390],[1578,719],[1590,653],[1627,335],[1627,237],[1720,318],[1825,368],[1836,506],[1875,662],[1450,300],[1480,420],[1550,460],[1600,280],[1420,350],[1460,380],[1500,320],[1650,400],[1390,270],[1410,460]
];

var samples = [woodDeck, lotFrontage, lotArea, masVnrArea, bsmtUnfSF, garageArea, secondFlrSF];

var textColor = '#262626';
var fontFamily = 'Liberation Sans, Arial, sans-serif';

// same margins matplotlib adds round the data
function padRange(vals){
  var lo = Math.min.apply(null, vals), hi = Math.max.apply(null, vals);
  var p = (hi - lo) * 0.05;
  return [lo - p, hi + p];
}

var allPrices = [];
samples.forEach(function(s){ s.forEach(function(p){ allPrices.push(p[1] * 1000); }); });
var yRange = padRange(allPrices);

var rowDomains = [[495/712, 664/712], [269/712, 438/712], [44/712, 211/712]];
var rowTicks = [ticksRaw, ticksLog, ticksClip];

var traces = [];
var layout = {
  width: 1996, height: 712,
  margin: {l: 0, r: 0, t: 0, b: 0},
  paper_bgcolor: '#ffffff',
  plot_bgcolor: '#EAEAF2',
  showlegend: false,
  hovermode: false,
  font: {family: fontFamily, color: textColor},
  annotations: []
};

for(var r = 0; r < 3; r++){
  for(var c = 0; c < 7; c++){
    var k = r * 7 + c + 1;
    var pts = samples[c];
    var xs = [], ys = [];
    for(var i = 0; i < pts.length; i++){
      var v = pts[i][0];
      if(r == 1){
        if(v <= 0) continue;
        v = Math.log(v);
      } else if(r == 2){
        v = Math.min(v, clipAt[c]);
      }
      xs.push(v);
      ys.push(pts[i][1] * 1000);
    }
    var sfx = k == 1 ? '' : String(k);
    traces.push({
      x: xs, y: ys,
      xaxis: 'x' + sfx, yaxis: 'y' + sfx,
      type: 'scatter', mode: 'markers',
      marker: {color: '#4C72B0', size: 6, line: {width: 0}}
    });
    var left = (164 + 262.2 * c) / 1996;
    var labels = rowTicks[r][c];
    layout['xaxis' + sfx] = {
      domain: [left, left + 228 / 1996],
      anchor: 'y' + sfx,
      range: padRange(xs),
      tickmode: 'array',
      tickvals: labels.map(parseFloat),
      ticktext: labels,
      ticks: '',
      ticklabelstandoff: 12,
      tickfont: {size: 18.5, color: textColor, family: fontFamily},
      showgrid: true, gridcolor: '#ffffff', gridwidth: 1.5,
      zeroline: false, showline: false
    };
    layout['yaxis' + sfx] = {
      domain: rowDomains[r],
      anchor: 'x' + sfx,
      range: yRange,
      showticklabels: false, ticks: '',
      showgrid: false, zeroline: false, showline: false
    };
  }
}

for(var c = 0; c < 7; c++){
  var left = (164 + 262.2 * c) / 1996;
  layout.annotations.push({
    text: features[c], xref: 'paper', yref: 'paper',
    x: left + 114 / 1996, y: 1 - 28 / 712,
    xanchor: 'center', yanchor: 'middle', showarrow: false,
    font: {size: 27, color: textColor, family: fontFamily}
  });
}

layout.annotations.push({
  text: rowLabels[0], xref: 'paper', yref: 'paper',
  x: 140 / 1996, y: (rowDomains[0][0] + rowDomains[0][1]) / 2,
  xanchor: 'center', yanchor: 'middle', textangle: -90, showarrow: false,
  font: {size: 25, color: textColor, family: fontFamily}
});
for(var r = 1; r < 3; r++){
  layout.annotations.push({
    text: rowLabels[r], xref: 'paper', yref: 'paper',
    x: 84 / 1996, y: (rowDomains[r][0] + rowDomains[r][1]) / 2,
    xanchor: 'center', yanchor: 'bottom', showarrow: false,
    font: {size: 31, color: textColor, family: fontFamily}
  });
}

Plotly.newPlot('myPlot', traces, layout, {displayModeBar: false, staticPlot: true});
</script>
</body>
</html>
